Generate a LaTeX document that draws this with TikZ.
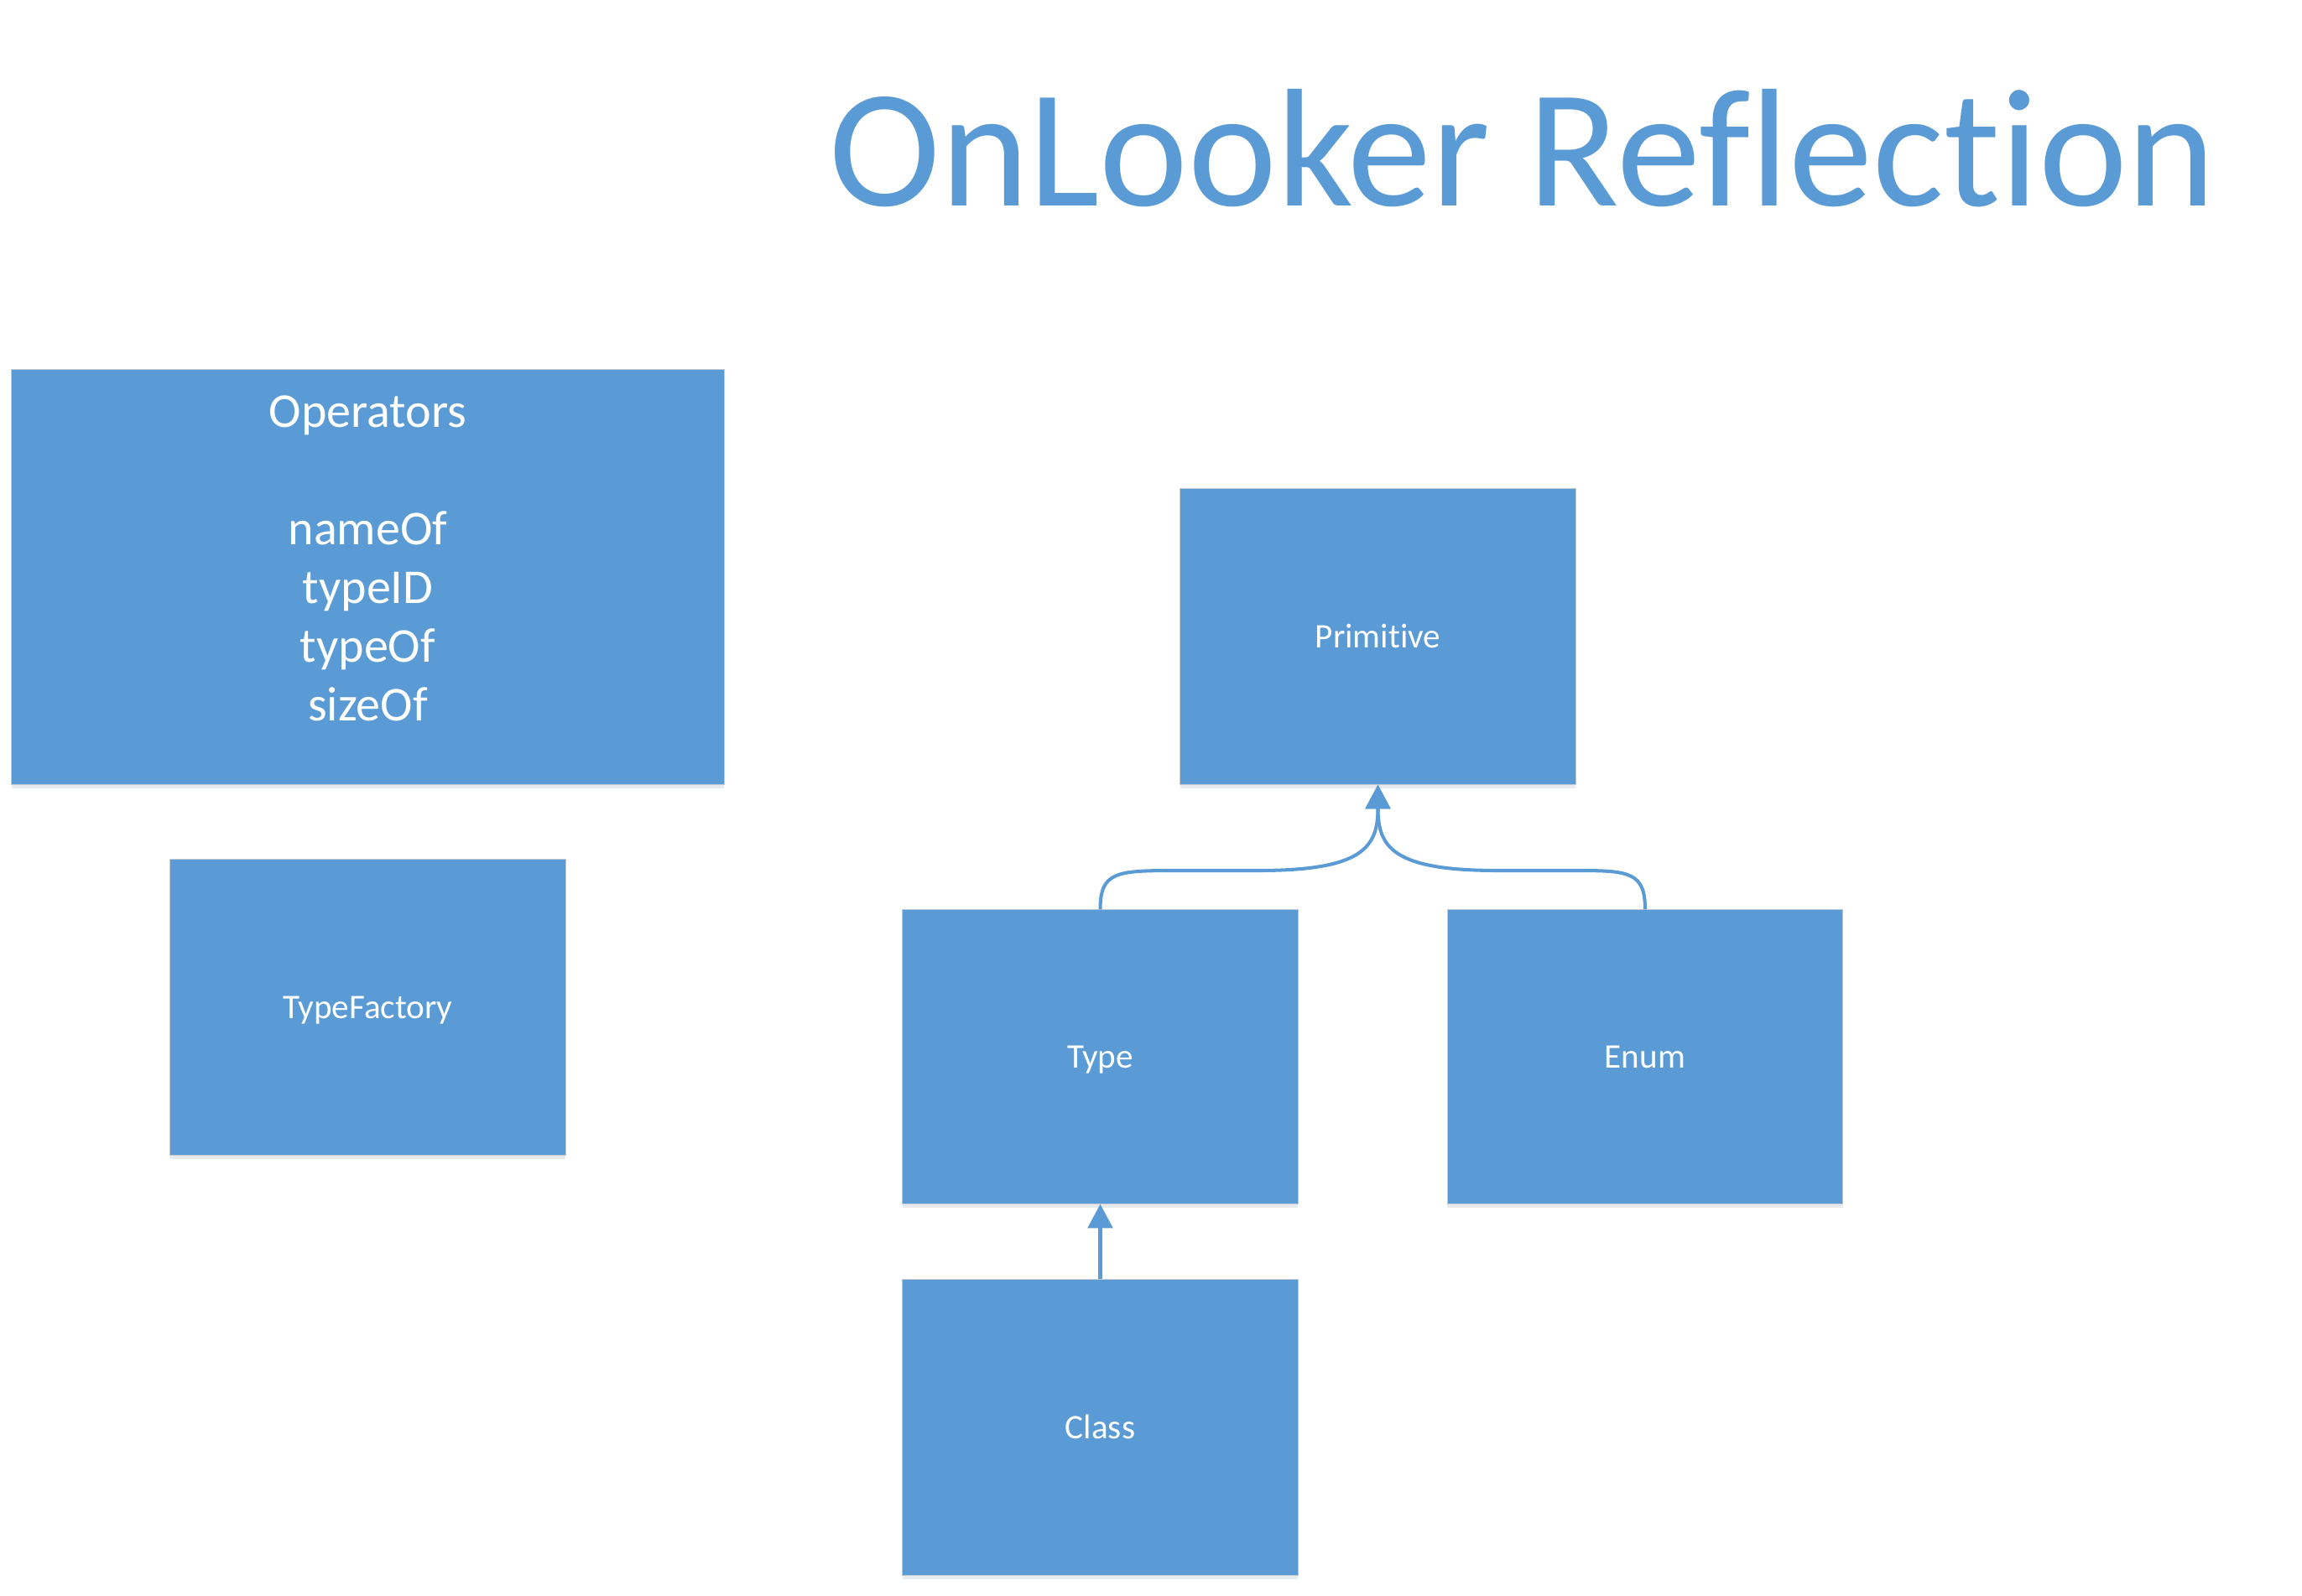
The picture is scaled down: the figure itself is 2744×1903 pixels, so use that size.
\documentclass[tikz,border=0pt]{standalone}
\usepackage{fontspec}
\setmainfont{Carlito}[Ligatures={NoCommon,NoRequired,NoContextual}]
\usetikzlibrary{arrows.meta,shadows}
\definecolor{boxblue}{HTML}{5B9BD5}
\definecolor{edgegrey}{HTML}{C4C9CF}
\begin{document}
\begin{tikzpicture}[x=0.01cm,y=-0.01cm,
  cls/.style={rectangle, fill=boxblue, draw=edgegrey, line width=0.3pt,
    text=white, font=\fontsize{11.7pt}{14pt}\selectfont, inner sep=0pt,
    text height=9pt, text depth=1.6pt,
    minimum width=4.71cm, minimum height=3.52cm,
    drop shadow={shadow xshift=0pt, shadow yshift=-1.3pt, opacity=0.12, fill=boxblue!60!black}},
  conn/.style={draw=boxblue, line width=1.15pt, -{Triangle[length=8.2pt,width=8.4pt]}},
]
\useasboundingbox (0,0) rectangle (2744,1903);
\node[anchor=base west, inner sep=0pt, text=boxblue, font=\fontsize{57pt}{68pt}\selectfont] (title) at (988,246) {OnLooker Reflection};

\node[cls, minimum width=8.49cm, minimum height=4.94cm] (ops) at (438.5,688) {};
\node[anchor=base, inner sep=0pt, text=white, align=center, font=\fontsize{16.5pt}{19.9pt}\selectfont] (opstext) at (438.5,859) {Operators\\[19.9pt]nameOf\\typeID\\typeOf\\sizeOf};

\node[cls] (tf) at (438.5,1201) {TypeFactory};
\node[cls] (prim) at (1642.5,759) {Primitive};
\node[cls, minimum height=3.50cm] (type) at (1311.5,1260) {Type};
\node[cls, minimum height=3.50cm] (enum) at (1961,1260) {Enum};
\node[cls] (class) at (1311.5,1702) {Class};

\draw[conn] (type.north) .. controls (1311.5,1040) and (1330,1038) .. (1400,1038) -- (1500,1038) .. controls (1625,1038) and (1642.5,1010) .. (prim.south);
\draw[conn] (enum.north) .. controls (1961,1040) and (1942,1038) .. (1880,1038) -- (1785,1038) .. controls (1660,1038) and (1642.5,1010) .. (prim.south);
\draw[conn] (class.north) -- (type.south);
\end{tikzpicture}
\end{document}
